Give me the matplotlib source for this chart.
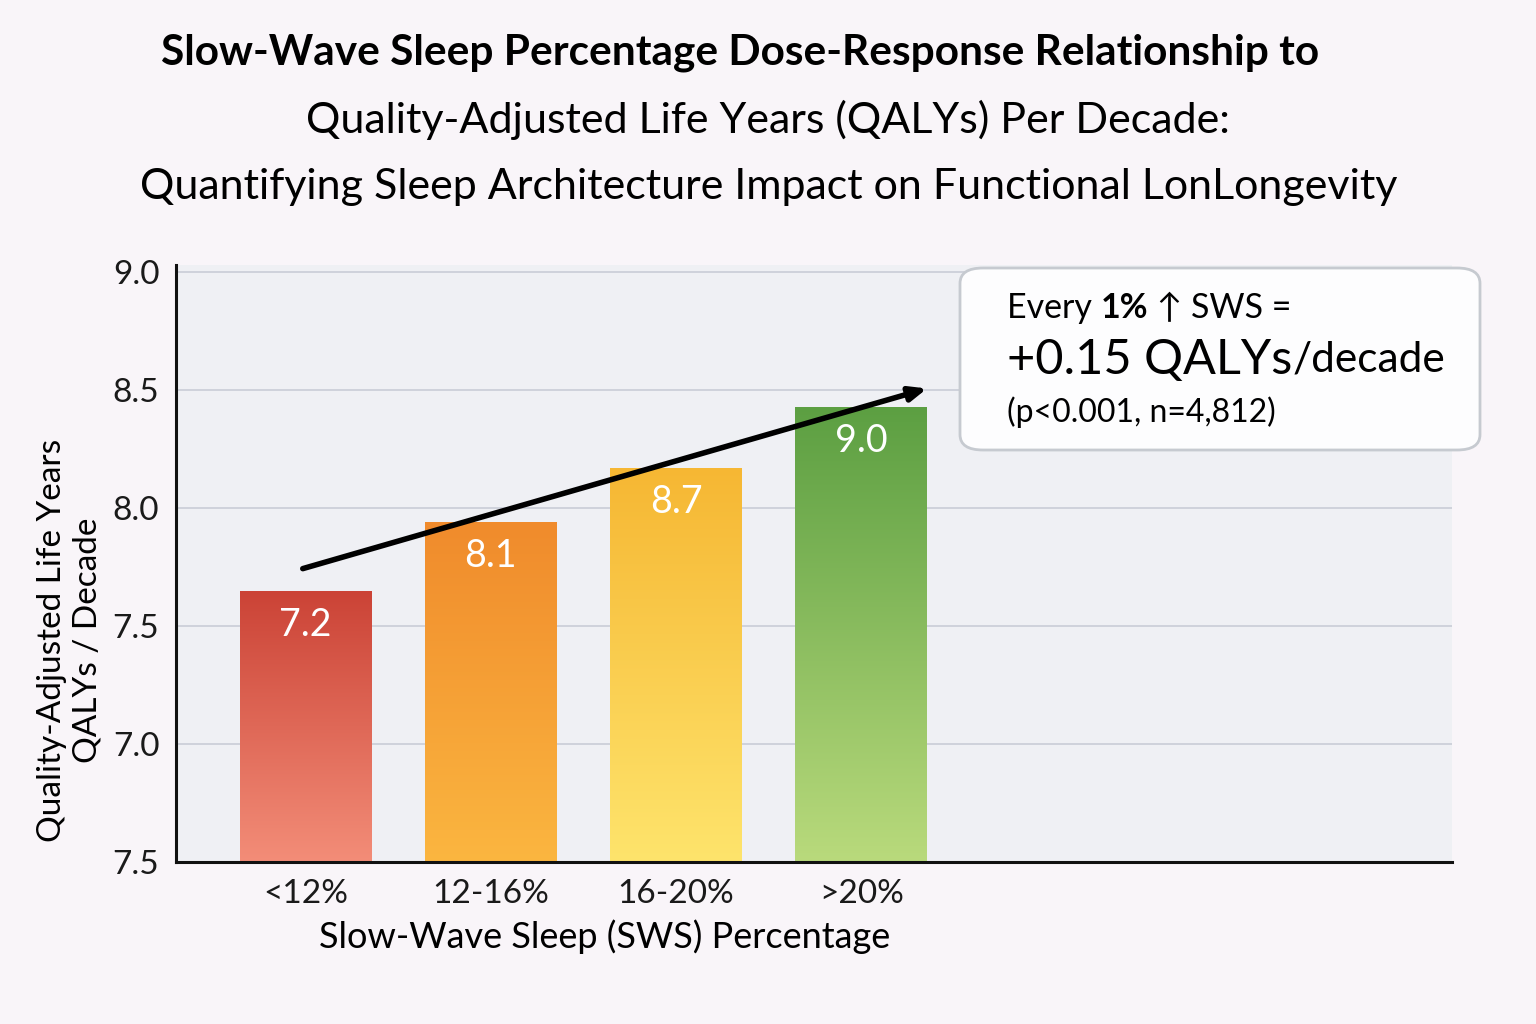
import numpy as np
import matplotlib
matplotlib.use("Agg")
import matplotlib.pyplot as plt
from matplotlib.colors import LinearSegmentedColormap
from matplotlib.patches import FancyBboxPatch

plt.rcParams['font.family'] = ['Lato', 'DejaVu Sans']

# data
categories = ['<12%', '12-16%', '16-20%', '>20%']
bar_heights = [7.65, 7.94, 8.17, 8.43]
bar_labels = ['7.2', '8.1', '8.7', '9.0']
tick_values = [6.5, 7.0, 7.5, 8.0, 8.5, 9.0]
tick_labels = ['7.5', '7.0', '7.5', '8.0', '8.5', '9.0']
top_colors = ['#cb4336', '#f08b2c', '#f6b733', '#5c9f42']
bottom_colors = ['#f38d78', '#fbb640', '#fee46c', '#b9da7c']
trend_start = (-0.03, 7.74)
trend_end = (3.37, 8.51)

fig = plt.figure(figsize=(15.36, 10.24), dpi=100)
fig.patch.set_facecolor('#f9f5f9')
ax = fig.add_axes([0.1146, 0.1582, 0.8307, 0.583])
ax.set_facecolor('#eff0f4')

ymin = 6.5
ax.set_yticks(tick_values)
ax.set_yticklabels(tick_labels)
ax.set_xticks(range(len(categories)))
ax.set_xticklabels(categories)
ax.tick_params(axis='both', length=0, labelsize=24, colors='#1a1a1a')
ax.tick_params(axis='x', pad=12)
ax.tick_params(axis='y', pad=12)
ax.grid(axis='y', color='#c9ccd6', linewidth=1.2)
ax.set_axisbelow(True)
for s in ['top', 'right']:
    ax.spines[s].set_visible(False)
for s in ['left', 'bottom']:
    ax.spines[s].set_linewidth(2.2)
    ax.spines[s].set_color('#111111')

width = 0.71
bars = ax.bar(range(len(categories)), np.array(bar_heights) - ymin, bottom=ymin,
              width=width, color='none', edgecolor='none', zorder=2)
for i, b in enumerate(bars):
    cmap = LinearSegmentedColormap.from_list('g%d' % i, [bottom_colors[i], top_colors[i]])
    grad = np.linspace(0, 1, 256).reshape(-1, 1)
    x0 = b.get_x()
    im = ax.imshow(grad, cmap=cmap, origin='lower', aspect='auto',
                   extent=[x0, x0 + width, ymin, bar_heights[i]], zorder=2)
    im.set_clip_path(b)
    ax.text(i, bar_heights[i] - 0.145, bar_labels[i], ha='center', va='center',
            color='white', fontsize=27, zorder=4)

ax.set_xlim(-0.70, 6.19)
ax.set_ylim(ymin, 9.03)

ax.annotate('', xy=trend_end, xytext=trend_start,
            arrowprops=dict(arrowstyle='-|>,head_length=1.0,head_width=0.42',
                            color='black', lw=4), zorder=5)

fig.text(605 / 1536, 1 - 937 / 1024, 'Slow-Wave Sleep (SWS) Percentage',
         ha='center', va='center', fontsize=26)
fig.text(0.034, 0.375, 'Quality-Adjusted Life Years', rotation=90, ha='center',
         va='center', fontsize=24)
fig.text(0.057, 0.375, 'QALYs / Decade', rotation=90, ha='center',
         va='center', fontsize=24)

# titles
fig.text(740 / 1536, 1 - 53 / 1024, 'Slow-Wave Sleep Percentage Dose-Response Relationship to',
         ha='center', va='center', fontsize=30.5, fontweight='bold')
fig.text(768 / 1536, 1 - 120 / 1024, 'Quality-Adjusted Life Years (QALYs) Per Decade:',
         ha='center', va='center', fontsize=31)
fig.text(769 / 1536, 1 - 187 / 1024, 'Quantifying Sleep Architecture Impact on Functional LonLongevity',
         ha='center', va='center', fontsize=31)

# callout box
box = FancyBboxPatch((960 / 1536, 1 - 450 / 1024), 520 / 1536, 182 / 1024,
                     boxstyle='round,pad=0,rounding_size=0.015',
                     transform=fig.transFigure, facecolor='#fdfdfe',
                     edgecolor='#c6cad0', linewidth=2, zorder=6)
fig.patches.append(box)

r = fig.canvas.get_renderer()
x = 1007 / 1536
y1 = 1 - 308 / 1024
parts = [('Every ', 'normal'), ('1%', 'bold'), (' ↑ SWS =', 'normal')]
for txt, w in parts:
    t = fig.text(x, y1, txt, ha='left', va='center', fontsize=24.5, fontweight=w,
                 zorder=7, family=['Lato', 'DejaVu Sans'])
    bb = t.get_window_extent(renderer=r)
    x += bb.width / fig.bbox.width
x = 1007 / 1536
y2 = 1 - 360 / 1024
for txt, fs in [('+0.15 QALYs', 35), ('/decade', 30.5)]:
    t = fig.text(x, y2, txt, ha='left', va='center', fontsize=fs, zorder=7)
    bb = t.get_window_extent(renderer=r)
    x += bb.width / fig.bbox.width
fig.text(1007 / 1536, 1 - 412 / 1024, '(p<0.001, n=4,812)', ha='left', va='center',
         fontsize=23, zorder=7)

fig.savefig('out.png', dpi=100, facecolor=fig.get_facecolor())
